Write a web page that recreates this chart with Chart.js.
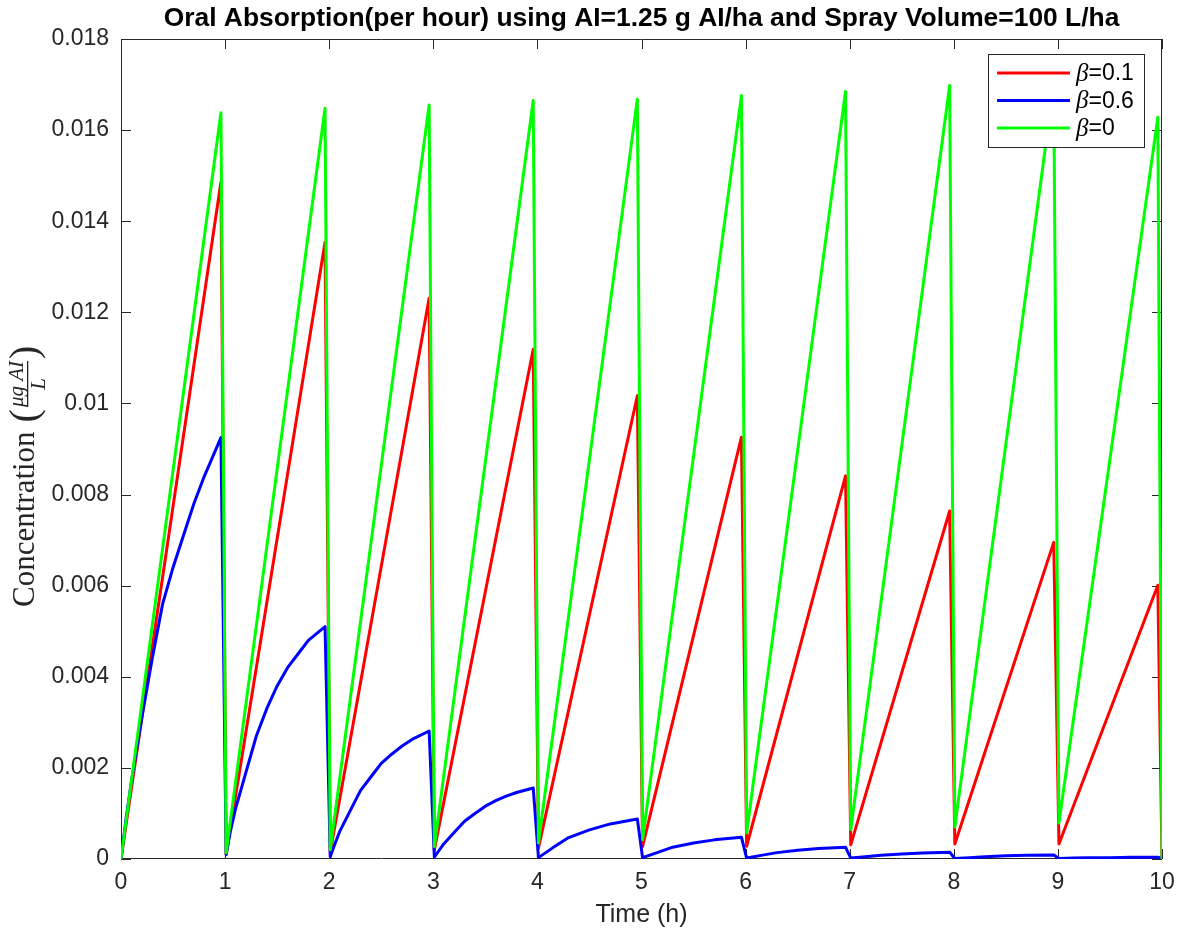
<!DOCTYPE html>
<html>
<head>
<meta charset="utf-8">
<script src="https://cdn.jsdelivr.net/npm/chart.js@4/dist/chart.umd.min.js"></script>
<style>
  html, body { margin: 0; padding: 0; background: #fff; }
  canvas { display: block; }
</style>
</head>
<body>
<canvas id="absorptionChart" width="1185" height="936"></canvas>
<script>
// time points (h) for the two straight saw-tooth series: peak just before each hour, dip just after
const sawTimes = [0, 0.96, 1.01, 1.96, 2.01, 2.96, 3.01, 3.96, 4.01, 4.96, 5.01,
  5.96, 6.01, 6.96, 7.01, 7.96, 8.01, 8.96, 9.01, 9.96, 10];
const beta01 = [0, 0.01486, 0.0001, 0.01354, 0.00015, 0.01231, 0.0002, 0.01119, 0.00024,
  0.01017, 0.00027, 0.00926, 0.00028, 0.00841, 0.00031, 0.00764, 0.00033, 0.00695, 0.00033, 0.00601, 0];
const beta0 = [0, 0.01638, 0.00013, 0.01648, 0.0002, 0.01655, 0.00027, 0.01665, 0.00035,
  0.01668, 0.00042, 0.01676, 0.00057, 0.01685, 0.00064, 0.01698, 0.0007, 0.0170, 0.00079, 0.01628, 0];

// beta=0.6 bends, so it needs more points (denser in the first hours where the curve is tall)
const blueTimes = [
  0, 0.05, 0.1, 0.2, 0.3, 0.4, 0.5, 0.6, 0.7, 0.8, 0.96,
  1.01, 1.05, 1.1, 1.2, 1.3, 1.4, 1.5, 1.6, 1.7, 1.8, 1.96,
  2.01, 2.05, 2.1, 2.2, 2.3, 2.4, 2.5, 2.6, 2.7, 2.8, 2.96,
  3.01, 3.05, 3.1, 3.2, 3.3, 3.4, 3.5, 3.6, 3.7, 3.8, 3.96,
  4.01, 4.15, 4.3, 4.5, 4.7, 4.96,
  5.01, 5.15, 5.3, 5.5, 5.7, 5.96,
  6.01, 6.15, 6.3, 6.5, 6.7, 6.96,
  7.01, 7.15, 7.3, 7.5, 7.7, 7.96,
  8.01, 8.15, 8.3, 8.5, 8.7, 8.96,
  9.01, 9.15, 9.3, 9.5, 9.7, 9.96,
  10];
const beta06 = [
  0, 0.0009, 0.0017, 0.0031, 0.0044, 0.0056, 0.0064, 0.0071, 0.0078, 0.0084, 0.00925,
  0.0001, 0.0006, 0.0011, 0.0019, 0.0027, 0.0033, 0.0038, 0.0042, 0.0045, 0.0048, 0.0051,
  0.00005, 0.0003, 0.0006, 0.00105, 0.0015, 0.0018, 0.0021, 0.0023, 0.00248, 0.00263, 0.00281,
  0.00004, 0.00017, 0.00033, 0.00058, 0.00083, 0.001, 0.00116, 0.00128, 0.00138, 0.00146, 0.00156,
  0.00003, 0.00025, 0.00047, 0.00064, 0.00077, 0.00088,
  0.00003, 0.00014, 0.00026, 0.00035, 0.00042, 0.00048,
  0.00002, 0.00008, 0.00014, 0.00019, 0.00023, 0.00026,
  0.00002, 0.00005, 0.00008, 0.00011, 0.00013, 0.00015,
  0.00001, 0.00003, 0.00005, 0.00007, 0.00008, 0.00009,
  0.00001, 0.00002, 0.00003, 0.00003, 0.00004, 0.00004,
  0.00001];

const xTicks = [0, 1, 2, 3, 4, 5, 6, 7, 8, 9, 10];
const xTickLabels = ['0', '1', '2', '3', '4', '5', '6', '7', '8', '9', '10'];
const yTicks = [0, 0.002, 0.004, 0.006, 0.008, 0.01, 0.012, 0.014, 0.016, 0.018];
const yTickLabels = ['0', '0.002', '0.004', '0.006', '0.008', '0.01', '0.012', '0.014', '0.016', '0.018'];

const titleText = 'Oral Absorption(per hour) using AI=1.25 g AI/ha and Spray Volume=100 L/ha';
const axisColor = '#262626';
const sans = '"Liberation Sans", Arial, Helvetica, sans-serif';
const serif = '"Liberation Serif", "Times New Roman", serif';

const toPoints = (ts, vs) => ts.map((t, i) => ({ x: t, y: vs[i] }));

// matlab style box, inward ticks, title, latex-ish y label and legend
const matlabLook = {
  id: 'matlabLook',
  beforeDatasetsDraw(chart) {
    const { ctx, chartArea: a, scales: { x, y } } = chart;
    const len = 10;
    ctx.save();
    ctx.strokeStyle = axisColor;
    ctx.lineWidth = 1;
    ctx.beginPath();
    ctx.rect(a.left + 0.5, a.top + 0.5, a.right - a.left - 1, a.bottom - a.top - 1);
    x.ticks.forEach(t => {
      const px = Math.round(x.getPixelForValue(t.value)) + 0.5;
      ctx.moveTo(px, a.bottom); ctx.lineTo(px, a.bottom - len);
      ctx.moveTo(px, a.top); ctx.lineTo(px, a.top + len);
    });
    y.ticks.forEach(t => {
      const py = Math.round(y.getPixelForValue(t.value)) + 0.5;
      ctx.moveTo(a.left, py); ctx.lineTo(a.left + len, py);
      ctx.moveTo(a.right, py); ctx.lineTo(a.right - len, py);
    });
    ctx.stroke();
    ctx.restore();
  },
  afterDraw(chart) {
    const { ctx, chartArea: a } = chart;

    // title, centred on the plot box
    ctx.save();
    ctx.fillStyle = '#000';
    ctx.font = 'bold 26.4px ' + sans;
    ctx.textAlign = 'center';
    ctx.textBaseline = 'middle';
    ctx.fillText(titleText, (a.left + a.right) / 2, 19);
    ctx.restore();

    // y label: Concentration (ugAI / L)
    ctx.save();
    ctx.translate(26, 462);
    ctx.rotate(-Math.PI / 2);
    ctx.fillStyle = axisColor;
    ctx.textBaseline = 'middle';
    ctx.textAlign = 'left';
    ctx.font = '31px ' + serif;
    let cx = -145;
    ctx.fillText('Concentration', cx, 0);
    cx += ctx.measureText('Concentration').width + 9;
    ctx.font = '40px ' + serif;
    ctx.fillText('(', cx, 0);
    cx += ctx.measureText('(').width + 2;
    ctx.font = 'italic 21px ' + serif;
    const num = '\u03bcg AI';
    const nw = ctx.measureText(num).width;
    ctx.fillText(num, cx, -9);
    ctx.fillRect(cx, 1, nw, 1.3);
    ctx.textAlign = 'center';
    ctx.fillText('L', cx + nw / 2, 13);
    ctx.textAlign = 'left';
    cx += nw + 2;
    ctx.font = '40px ' + serif;
    ctx.fillText(')', cx, 0);
    ctx.restore();

    // legend box in the top right corner
    ctx.save();
    const bw = 156, bh = 93;
    const bx = a.right - 18 - bw, by = a.top + 15;
    ctx.fillStyle = '#fff';
    ctx.fillRect(bx, by, bw, bh);
    ctx.strokeStyle = axisColor;
    ctx.lineWidth = 1;
    ctx.strokeRect(bx + 0.5, by + 0.5, bw, bh);
    ctx.textAlign = 'left';
    ctx.textBaseline = 'middle';
    chart.data.datasets.forEach((ds, i) => {
      const ry = by + 19 + i * 27.5;
      ctx.strokeStyle = ds.borderColor;
      ctx.lineWidth = 3;
      ctx.beginPath();
      ctx.moveTo(bx + 9, ry);
      ctx.lineTo(bx + 82, ry);
      ctx.stroke();
      ctx.fillStyle = '#000';
      ctx.font = 'italic 25px ' + serif;
      const sym = ds.label.charAt(0);
      ctx.fillText(sym, bx + 88, ry + 1);
      const sw = ctx.measureText(sym).width;
      ctx.font = '23px ' + sans;
      ctx.fillText(ds.label.slice(1), bx + 88 + sw, ry + 1);
    });
    ctx.restore();
  }
};

const ctx = document.getElementById('absorptionChart').getContext('2d');

const absorptionChart = new Chart(ctx, {
  type: 'line',
  data: {
    datasets: [
      { label: '\u03b2=0.1', data: toPoints(sawTimes, beta01), borderColor: '#ff0000', order: 2 },
      { label: '\u03b2=0.6', data: toPoints(blueTimes, beta06), borderColor: '#0000ff', order: 1 },
      { label: '\u03b2=0', data: toPoints(sawTimes, beta0), borderColor: '#00ff00', order: 0 }
    ]
  },
  options: {
    responsive: false,
    animation: false,
    devicePixelRatio: 1,
    layout: { padding: { top: 39, right: 23, left: 0, bottom: 0 } },
    elements: {
      line: { borderWidth: 3, tension: 0, borderJoinStyle: 'round' },
      point: { radius: 0 }
    },
    plugins: {
      legend: { display: false },
      title: { display: false },
      tooltip: { enabled: false }
    },
    scales: {
      x: {
        type: 'linear',
        min: 0,
        max: 10,
        afterBuildTicks: s => { s.ticks = xTicks.map(v => ({ value: v })); },
        afterFit: s => { s.height = 77; },
        ticks: {
          callback: (v, i) => xTickLabels[i],
          font: { family: sans, size: 23 },
          color: axisColor,
          padding: 10,
          maxRotation: 0,
          autoSkip: false
        },
        grid: { display: false, drawTicks: false },
        border: { display: false },
        title: {
          display: true,
          text: 'Time (h)',
          font: { family: sans, size: 25 },
          color: axisColor,
          padding: { top: 0, bottom: 6 }
        }
      },
      y: {
        type: 'linear',
        min: 0,
        max: 0.018,
        afterBuildTicks: s => { s.ticks = yTicks.map(v => ({ value: v })); },
        afterFit: s => { s.width = 121; },
        ticks: {
          callback: (v, i) => yTickLabels[i],
          font: { family: sans, size: 23 },
          color: axisColor,
          padding: 12,
          autoSkip: false
        },
        grid: { display: false, drawTicks: false },
        border: { display: false }
      }
    }
  },
  plugins: [matlabLook]
});
</script>
</body>
</html>
